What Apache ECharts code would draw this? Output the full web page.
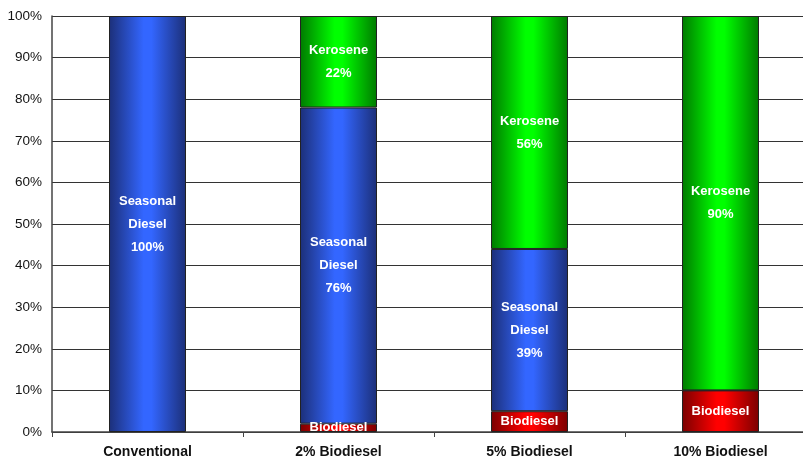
<!DOCTYPE html>
<html>
<head>
<meta charset="utf-8">
<script src="https://cdn.jsdelivr.net/npm/echarts@6/dist/echarts.min.js"></script>
<style>
  html, body { margin: 0; padding: 0; background: #fff; overflow: hidden; }
  /* the original chart runs past the right edge of the picture */
  #chart { width: 816px; height: 466px; }
</style>
</head>
<body>
<div id="chart"></div>
<script>
// blend categories and shares (%)
const categories = ['Conventional', '2% Biodiesel', '5% Biodiesel', '10% Biodiesel']
const biodiesel = [0, 2, 5, 10]
const seasonalDiesel = [100, 76, 39, 0]
const kerosene = [0, 22, 56, 90]

const sans = "'Liberation Sans', Arial, sans-serif"

// cylinder-like shading: dark edges, bright middle
function shade(edge, mid) {
  return new echarts.graphic.LinearGradient(0, 0, 1, 0, [
    { offset: 0, color: edge },
    { offset: 0.45, color: mid },
    { offset: 0.55, color: mid },
    { offset: 1, color: edge }
  ])
}

function zeroToNull(arr) {
  return arr.map(v => (v === 0 ? null : v))
}

const chart = echarts.init(document.getElementById('chart'))

const labelStyle = {
  show: true,
  position: 'inside',
  color: '#fff',
  fontFamily: sans,
  fontWeight: 'bold',
  fontSize: 13,
  lineHeight: 23
}

const option = {
  animation: false,
  grid: {
    left: 52,
    right: 0,
    top: 16,
    bottom: 34
  },
  xAxis: {
    type: 'category',
    data: categories,
    axisLine: { lineStyle: { color: '#444', width: 1.5 } },
    axisTick: { show: true, length: 5, lineStyle: { color: '#444' } },
    axisLabel: {
      color: '#111',
      fontFamily: sans,
      fontWeight: 'bold',
      fontSize: 14,
      margin: 13
    }
  },
  yAxis: {
    type: 'value',
    min: 0,
    max: 100,
    interval: 10,
    axisLine: { show: true, lineStyle: { color: '#444', width: 1.5 } },
    axisTick: { show: false },
    axisLabel: {
      formatter: '{value}%',
      color: '#111',
      fontFamily: sans,
      fontSize: 13.5,
      margin: 10
    },
    splitLine: { lineStyle: { color: '#333', width: 1 } }
  },
  series: [
    {
      name: 'Biodiesel',
      type: 'bar',
      stack: 'fuel',
      barWidth: 77,
      data: zeroToNull(biodiesel),
      itemStyle: { color: shade('#7a0000', '#ff0000'), borderColor: '#222', borderWidth: 1 },
      label: Object.assign({}, labelStyle, { formatter: '{a}' })
    },
    {
      name: 'Seasonal Diesel',
      type: 'bar',
      stack: 'fuel',
      barWidth: 77,
      data: zeroToNull(seasonalDiesel),
      itemStyle: { color: shade('#1c2f78', '#3366ff'), borderColor: '#222', borderWidth: 1 },
      label: Object.assign({}, labelStyle, { formatter: 'Seasonal\nDiesel\n{c}%' })
    },
    {
      name: 'Kerosene',
      type: 'bar',
      stack: 'fuel',
      barWidth: 77,
      data: zeroToNull(kerosene),
      itemStyle: { color: shade('#007a00', '#00ff00'), borderColor: '#222', borderWidth: 1 },
      label: Object.assign({}, labelStyle, { formatter: '{a}\n{c}%' })
    }
  ]
}

chart.setOption(option)
</script>
</body>
</html>
